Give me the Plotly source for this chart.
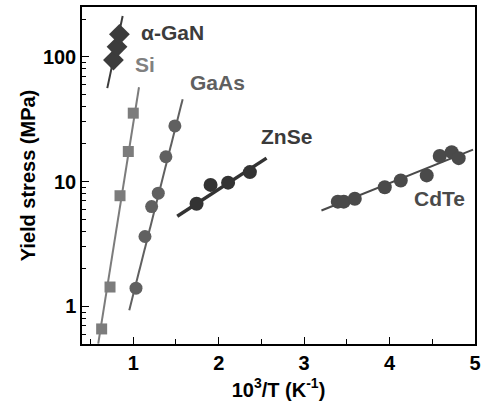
import numpy as np
import plotly.graph_objects as go

# ---- data ----
gan_x = [0.768, 0.810, 0.838]
gan_y = [94, 120, 151]
gan_fit_x = [0.696, 0.876]
gan_fit_y = [56, 212]

si_x = [0.630, 0.728, 0.845, 0.942, 1.000]
si_y = [0.66, 1.43, 7.7, 17.4, 35.3]
si_fit_x = [0.59, 1.067]
si_fit_y = [0.503, 56.9]

gaas_x = [1.032, 1.137, 1.215, 1.293, 1.382, 1.487]
gaas_y = [1.40, 3.63, 6.3, 8.07, 15.8, 27.9]
gaas_fit_x = [0.953, 1.578]
gaas_fit_y = [0.93, 45.6]

znse_x = [1.741, 1.905, 2.110, 2.365]
znse_y = [6.64, 9.4, 9.8, 11.9]
znse_fit_x = [1.515, 2.560]
znse_fit_y = [5.28, 15.4]

cdte_x = [3.394, 3.464, 3.593, 3.944, 4.131, 4.435, 4.587, 4.727, 4.809]
cdte_y = [6.9, 6.9, 7.28, 9.0, 10.2, 11.2, 16.0, 17.2, 15.4]
cdte_fit_x = [3.203, 4.977]
cdte_fit_y = [5.86, 18.0]

x_ticks = [1, 2, 3, 4, 5]
x_minor = [0.5, 1.5, 2.5, 3.5, 4.5]
y_ticks = [1, 10, 100]
y_tick_text = ["1", "10", "100"]
y_minor = [0.6, 0.7, 0.8, 0.9, 2, 3, 4, 5, 6, 7, 8, 9,
           20, 30, 40, 50, 60, 70, 80, 90, 200]

labels = ["α-GaN", "Si", "GaAs", "ZnSe", "CdTe"]
label_x = [1.09, 1.02, 1.663, 2.49, 4.283]
label_y = [155, 86, 62, 23, 7.3]

c_gan, c_si, c_gaas, c_znse, c_cdte = "#3c3c3c", "#7c7c7c", "#606060", "#333333", "#4a4a4a"
label_colors = [c_gan, "#808080", c_gaas, "#3a3a3a", c_cdte]

FONT = "Liberation Sans, Arial, Helvetica, sans-serif"

fig = go.Figure()

def add(series_x, series_y, fx, fy, color, symbol, size, lw):
    fig.add_trace(go.Scatter(x=fx, y=fy, mode="lines",
                             line=dict(color=color, width=lw), showlegend=False,
                             hoverinfo="skip"))
    fig.add_trace(go.Scatter(x=series_x, y=series_y, mode="markers",
                             marker=dict(color=color, symbol=symbol, size=size,
                                         line=dict(width=0)),
                             showlegend=False))

add(gan_x, gan_y, gan_fit_x, gan_fit_y, c_gan, "diamond", 16, 2)
add(si_x, si_y, si_fit_x, si_fit_y, c_si, "square", 11, 2)
add(gaas_x, gaas_y, gaas_fit_x, gaas_fit_y, c_gaas, "circle", 13, 2)
add(znse_x, znse_y, znse_fit_x, znse_fit_y, c_znse, "circle", 14, 3.5)
add(cdte_x, cdte_y, cdte_fit_x, cdte_fit_y, c_cdte, "circle", 14, 2)

for t, lx, ly, col in zip(labels, label_x, label_y, label_colors):
    fig.add_annotation(x=lx, y=np.log10(ly), xref="x", yref="y", text=t,
                       showarrow=False, xanchor="left", yanchor="middle",
                       xshift=-2,
                       font=dict(family=FONT, size=21, color=col, weight="bold"))

axis_common = dict(showline=True, linecolor="black", linewidth=1.5, mirror=True,
                   ticks="inside", ticklen=7, tickwidth=1.2, tickcolor="black",
                   showgrid=False, zeroline=False, automargin=False,
                   tickfont=dict(family=FONT, size=20, color="black", weight="bold"))

fig.update_layout(
    width=482, height=407,
    margin=dict(l=82, r=7, t=7, b=63),
    paper_bgcolor="white", plot_bgcolor="white",
    xaxis=dict(range=[0.4, 5.0], tickmode="array", tickvals=x_ticks,
               minor=dict(tickmode="array", tickvals=x_minor, ticks="inside",
                          ticklen=5, tickwidth=1, tickcolor="black"),
               title=dict(text="10<sup>3</sup>/T (K<sup>-1</sup>)", standoff=10,
                          font=dict(family=FONT, size=20, color="black", weight="bold")),
               **axis_common),
    yaxis=dict(type="log", range=[np.log10(0.5), np.log10(250)], tickmode="array",
               tickvals=y_ticks, ticktext=y_tick_text,
               minor=dict(tickmode="array", tickvals=y_minor, ticks="inside",
                          ticklen=4, tickwidth=1, tickcolor="black"),
               title=dict(text="Yield stress (MPa)", standoff=2,
                          font=dict(family=FONT, size=20, color="black", weight="bold")),
               **axis_common),
)

fig.write_html("out.html", config={"displayModeBar": False},
               post_script="document.body.style.margin='0';document.body.style.overflow='hidden';")
